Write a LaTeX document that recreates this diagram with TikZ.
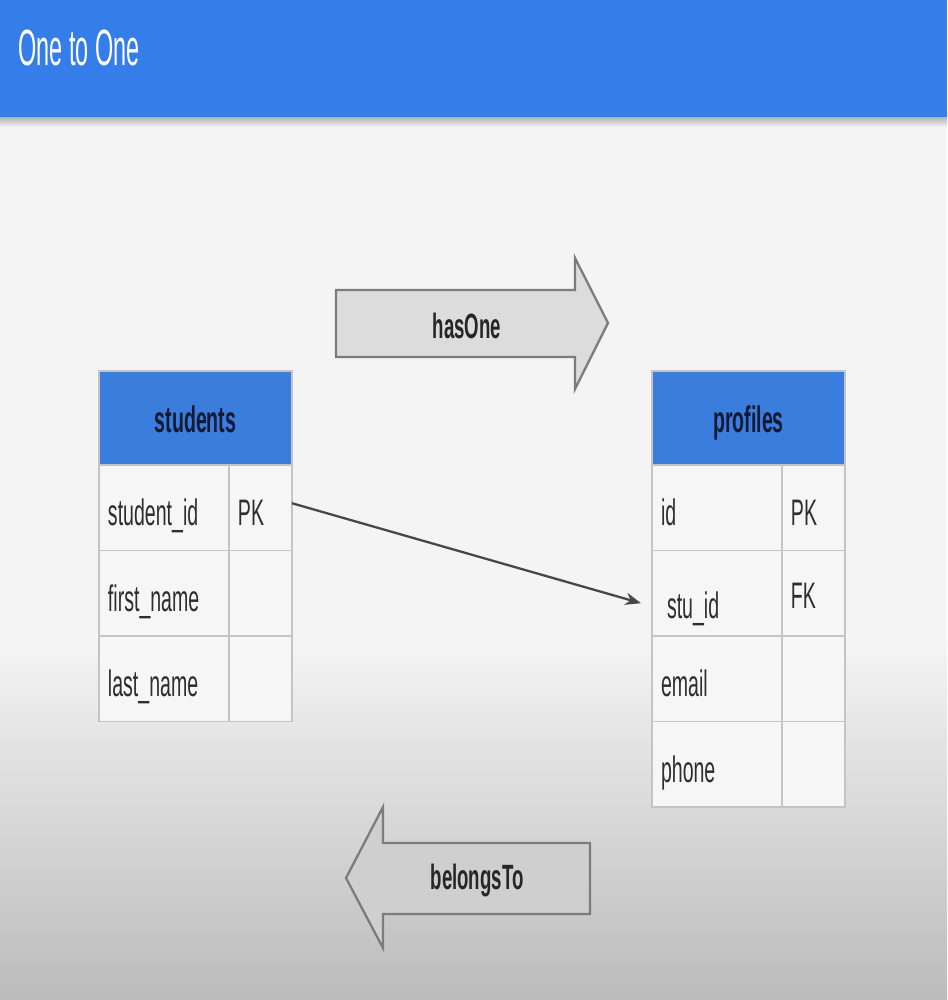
\documentclass[tikz,border=0pt]{standalone}
\usepackage{fontspec}
\setmainfont{Liberation Sans}[FakeStretch=0.53]
\newfontfamily\titlefont{Liberation Sans}[FakeStretch=0.46]
\usetikzlibrary{positioning,arrows.meta}
\definecolor{barblue}{HTML}{357DE8}
\definecolor{tblblue}{HTML}{3B7DDD}
\definecolor{tblhead}{HTML}{141A33}
\definecolor{gridline}{HTML}{C4C4C4}
\definecolor{cellbg}{HTML}{F6F6F6}
\definecolor{celltext}{HTML}{2E2E2E}
\definecolor{pagebg}{HTML}{F4F4F4}
\definecolor{pagebot}{HTML}{BBBBBB}
\definecolor{arrowfill}{HTML}{DCDCDC}
\definecolor{arrowfilltwo}{HTML}{CFCFCF}
\definecolor{arrowline}{HTML}{7C7C7C}
\definecolor{linkcol}{HTML}{474747}
\begin{document}
\begin{tikzpicture}[x=0.02cm,y=-0.02cm,
    headcell/.style={draw=gridline,fill=tblblue,line width=0.8pt,outer sep=0pt,
      minimum width=3.86cm,minimum height=1.88cm,text=tblhead,
      text height=0.6cm,text depth=0pt,
      font=\fontsize{21}{24}\selectfont\bfseries},
    namecell/.style={draw=gridline,fill=cellbg,line width=0.8pt,outer sep=0pt,
      minimum height=1.71cm,text width=2.24cm,inner xsep=0.18cm,align=left,
      text height=0.73cm,text depth=0pt,
      text=celltext,font=\fontsize{21}{24}\selectfont},
    keycell/.style={namecell,text width=0.9cm},
    blockarrow/.style={draw=arrowline,line width=1.3pt,line join=miter},
    arrowtext/.style={text=black!85,font=\fontsize{20}{23}\selectfont\bfseries},
    link/.style={draw=linkcol,line width=1.3pt,-{Stealth[length=9pt,width=7pt]}}]
    \useasboundingbox (0,0) rectangle (947,1000);
    % page and title bar
    \fill[pagebg] (0,0) rectangle (947,1000);
    \shade[top color=pagebg,bottom color=pagebot] (0,640) rectangle (947,1000);
    \shade[top color=black!30,bottom color=pagebg] (0,117) rectangle (947,127);
    \fill[barblue] (0,0) rectangle (947,117);
    \node[anchor=west,text=white,inner sep=0pt,
      font=\titlefont\fontsize{29}{32}\selectfont] (title) at (18,48) {One to One};
    % hasOne / belongsTo
    \draw[blockarrow,fill=arrowfill] (336,290) -- (575,290) -- (575,258) -- (608,323)
        -- (575,389) -- (575,357) -- (336,357) -- cycle;
    \node[arrowtext] (hasone) at (467,326) {hasOne};
    \draw[blockarrow,fill=arrowfilltwo] (590,843) -- (383,843) -- (383,807) -- (346,878)
        -- (383,948) -- (383,914) -- (590,914) -- cycle;
    \node[arrowtext] (belongs) at (477,880) {belongsTo};
    % students table
    \node[headcell,anchor=north west] (sthead) at (99,371) {students};
    \node[namecell,anchor=north west] (sid) at (sthead.south west) {student\_id};
    \node[keycell,right=0pt of sid] (spk) {PK};
    \node[namecell,below=0pt of sid] (sfirst) {first\_name};
    \node[keycell,right=0pt of sfirst] (sfirstk) {};
    \node[namecell,below=0pt of sfirst] (slast) {last\_name};
    \node[keycell,right=0pt of slast] (slastk) {};
    % profiles table
    \node[headcell,anchor=north west] (prhead) at (652,371) {profiles};
    \node[namecell,anchor=north west] (pid) at (prhead.south west) {id};
    \node[keycell,right=0pt of pid] (ppk) {PK};
    \node[namecell,below=0pt of pid] (pstu) {\hspace{0.12cm}\raisebox{-0.14cm}{stu\_id}};
    \node[keycell,right=0pt of pstu] (pfk) {\raisebox{0.06cm}{FK}};
    \node[namecell,below=0pt of pstu] (pemail) {email};
    \node[keycell,right=0pt of pemail] (pemailk) {};
    \node[namecell,below=0pt of pemail] (pphone) {phone};
    \node[keycell,right=0pt of pphone] (pphonek) {};
    % key link
    \draw[link] ([yshift=0.09cm]spk.east) -- ([xshift=-0.22cm,yshift=-0.2cm]pstu.west);
\end{tikzpicture}
\end{document}
